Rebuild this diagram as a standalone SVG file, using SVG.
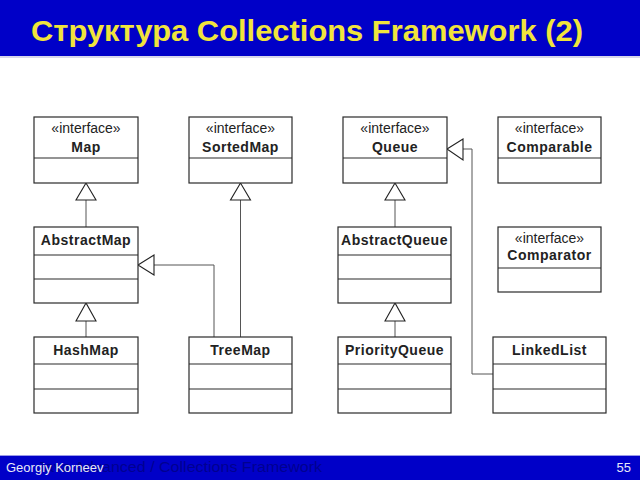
<svg xmlns="http://www.w3.org/2000/svg" width="640" height="480" viewBox="0 0 640 480">
<defs>
<style>
.box{fill:#fff;stroke:#2a2a2a;stroke-width:1.2}
.div{stroke:#2a2a2a;stroke-width:1.1}
.st{font-family:"Liberation Sans",Arial,sans-serif;font-size:14px;fill:#222;text-anchor:middle}
.nm{font-family:"Liberation Sans",Arial,sans-serif;font-size:14px;font-weight:bold;fill:#222;text-anchor:middle;letter-spacing:0.5px}
.ln{fill:none;stroke:#555;stroke-width:1}
.tri{fill:#fff;stroke:#222;stroke-width:1.1}
</style>
</defs>
<rect x="0" y="0" width="640" height="480" fill="#fff"/>
<g id="header">
<rect x="0" y="0" width="640" height="56" fill="#0000c8"/>
<line x1="0" y1="57" x2="640" y2="57" stroke="#c8c8e4" stroke-width="1.5"/>
<text x="31" y="41" font-family="'Liberation Sans',Arial,sans-serif" font-size="29" font-weight="bold" fill="#f0e43c" textLength="552" lengthAdjust="spacingAndGlyphs">Структура Collections Framework (2)</text>
</g>
<g id="footer">
<line x1="0" y1="455.5" x2="640" y2="455.5" stroke="#9a9ae8" stroke-width="1.2"/>
<rect x="0" y="456" width="640" height="24" fill="#0000c8"/>
<text x="37" y="472" font-family="'Liberation Sans',Arial,sans-serif" font-size="14" fill="#000090" textLength="285" lengthAdjust="spacingAndGlyphs">Java Advanced / Collections Framework</text>
<text x="6" y="471.5" font-family="'Liberation Sans',Arial,sans-serif" font-size="13" fill="#e8e8f8">Georgiy Korneev</text>
<text x="631" y="471.5" font-family="'Liberation Sans',Arial,sans-serif" font-size="13" fill="#e8e8f8" text-anchor="end">55</text>
</g>
<g id="connectors">
<line class="ln" x1="86" y1="200" x2="86" y2="227"/>
<polygon class="tri" points="86,183 76,200 96,200"/>
<line class="ln" x1="240.5" y1="200" x2="240.5" y2="337"/>
<polygon class="tri" points="240.5,183 230.5,200 250.5,200"/>
<polyline class="ln" points="214,337 214,265 154,265"/>
<polygon class="tri" points="138,265 154,255 154,275"/>
<line class="ln" x1="86" y1="321" x2="86" y2="337"/>
<polygon class="tri" points="86,303 76,321 96,321"/>
<line class="ln" x1="395" y1="200" x2="395" y2="227"/>
<polygon class="tri" points="395,183 385,200 405,200"/>
<line class="ln" x1="395" y1="321" x2="395" y2="337"/>
<polygon class="tri" points="395,303 385,321 405,321"/>
<polyline class="ln" points="493,374 472,374 472,149 463,149"/>
<polygon class="tri" points="447,149 463,139 463,160"/>
</g>
<g id="Map">
<rect class="box" x="34" y="117" width="104" height="66"/>
<line class="div" x1="34" y1="158" x2="138" y2="158"/>
<text class="st" x="86" y="133">«interface»</text>
<text class="nm" x="86" y="152">Map</text>
</g>
<g id="SortedMap">
<rect class="box" x="189" y="117" width="103" height="66"/>
<line class="div" x1="189" y1="158" x2="292" y2="158"/>
<text class="st" x="240.5" y="133">«interface»</text>
<text class="nm" x="240.5" y="152">SortedMap</text>
</g>
<g id="Queue">
<rect class="box" x="343" y="117" width="104" height="66"/>
<line class="div" x1="343" y1="158" x2="447" y2="158"/>
<text class="st" x="395" y="133">«interface»</text>
<text class="nm" x="395" y="152">Queue</text>
</g>
<g id="Comparable">
<rect class="box" x="498" y="117" width="103" height="66"/>
<line class="div" x1="498" y1="158" x2="601" y2="158"/>
<text class="st" x="549.5" y="133">«interface»</text>
<text class="nm" x="549.5" y="152">Comparable</text>
</g>
<g id="AbstractMap">
<rect class="box" x="34" y="227" width="104" height="76"/>
<line class="div" x1="34" y1="255" x2="138" y2="255"/>
<line class="div" x1="34" y1="279" x2="138" y2="279"/>
<text class="nm" x="86" y="245">AbstractMap</text>
</g>
<g id="AbstractQueue">
<rect class="box" x="338" y="227" width="113" height="76"/>
<line class="div" x1="338" y1="255" x2="451" y2="255"/>
<line class="div" x1="338" y1="279" x2="451" y2="279"/>
<text class="nm" x="394.5" y="245">AbstractQueue</text>
</g>
<g id="Comparator">
<rect class="box" x="498" y="227" width="103" height="65"/>
<line class="div" x1="498" y1="268" x2="601" y2="268"/>
<text class="st" x="549.5" y="243">«interface»</text>
<text class="nm" x="549.5" y="260">Comparator</text>
</g>
<g id="HashMap">
<rect class="box" x="34" y="337" width="104" height="76"/>
<line class="div" x1="34" y1="364" x2="138" y2="364"/>
<line class="div" x1="34" y1="389" x2="138" y2="389"/>
<text class="nm" x="86" y="355">HashMap</text>
</g>
<g id="TreeMap">
<rect class="box" x="189" y="337" width="103" height="76"/>
<line class="div" x1="189" y1="364" x2="292" y2="364"/>
<line class="div" x1="189" y1="389" x2="292" y2="389"/>
<text class="nm" x="240.5" y="355">TreeMap</text>
</g>
<g id="PriorityQueue">
<rect class="box" x="338" y="337" width="113" height="76"/>
<line class="div" x1="338" y1="364" x2="451" y2="364"/>
<line class="div" x1="338" y1="389" x2="451" y2="389"/>
<text class="nm" x="394.5" y="355">PriorityQueue</text>
</g>
<g id="LinkedList">
<rect class="box" x="493" y="337" width="113" height="76"/>
<line class="div" x1="493" y1="364" x2="606" y2="364"/>
<line class="div" x1="493" y1="389" x2="606" y2="389"/>
<text class="nm" x="549.5" y="355">LinkedList</text>
</g>
</svg>
